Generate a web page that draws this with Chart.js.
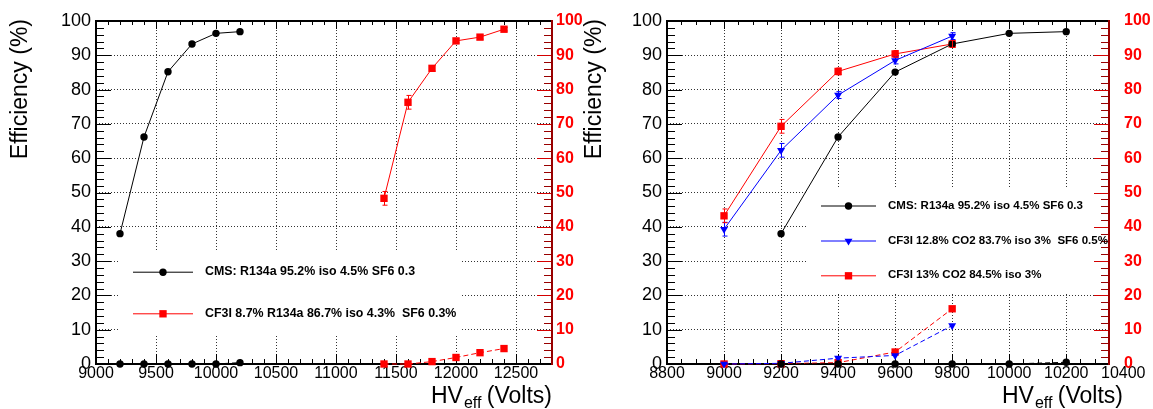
<!DOCTYPE html>
<html>
<head>
<meta charset="utf-8">
<script src="https://cdn.jsdelivr.net/npm/chart.js@4.4.0/dist/chart.umd.min.js"></script>
<style>
html, body { margin: 0; padding: 0; background: #fff; }
#wrap { position: relative; width: 1153px; height: 409px; overflow: hidden; }
.pan { position: absolute; top: 0; }
</style>
</head>
<body>
<div id="wrap">
  <div class="pan" style="left:0"><canvas id="cL" width="600" height="409"></canvas></div>
  <div class="pan" style="left:560px"><canvas id="cR" width="593" height="409"></canvas></div>
</div>
<script>
// --- left pad: CMS mixture vs CF3I/R134a
var hvCmsL = [9200, 9400, 9600, 9800, 10000, 10200];
var effCmsL = [38, 66.2, 85.2, 93.3, 96.4, 96.9];
var strCmsL = [0, 0, 0, 0, 0, 0.4];
var hvCf3iL = [11400, 11600, 11800, 12000, 12200, 12400];
var effCf3iL = [48.3, 76.3, 86.2, 94.2, 95.3, 97.6];
var errCf3iL = [2, 2, 0.8, 0.6, 0.6, 0.5];
var strCf3iL = [0, 0, 0.7, 1.9, 3.3, 4.5];
var rangeXL = [9000, 12800];
var ticksXL = [9000, 9500, 10000, 10500, 11000, 11500, 12000, 12500];

// --- right pad: CMS mixture vs CF3I/CO2
var hvCmsR = [9200, 9400, 9600, 9800, 10000, 10200];
var effCmsR = [38, 66.2, 85.1, 93.3, 96.4, 96.9];
var strCmsR = [0, 0, 0, 0, 0, 0.5];
var hvCo2 = [9000, 9200, 9400, 9600, 9800];
var effCo2Sf6 = [39.3, 62.3, 78.4, 88.5, 95.6];
var errCo2Sf6 = [2, 2, 1, 1, 1];
var strCo2Sf6 = [0, 0.2, 1.7, 2.5, 11.2];
var effCo2 = [43.2, 69.3, 85.3, 90.4, 93.3];
var errCo2 = [2, 2, 1, 1, 1];
var strCo2 = [0, 0.1, 0.4, 3.5, 16.1];
var rangeXR = [8800, 10350];
var ticksXR = [8800, 9000, 9200, 9400, 9600, 9800, 10000, 10200, 10400];

var ticksY = [0, 10, 20, 30, 40, 50, 60, 70, 80, 90, 100];

var labCms = 'CMS: R134a 95.2% iso 4.5% SF6 0.3';
var labR134 = 'CF3I 8.7% R134a 86.7% iso 4.3%  SF6 0.3%';
var labCo2Sf6 = 'CF3I 12.8% CO2 83.7% iso 3%  SF6 0.5%';
var labCo2 = 'CF3I 13% CO2 84.5% iso 3%';

var FONT = '"Liberation Sans", Arial, Helvetica, sans-serif';

function pts(xs, ys) {
    return xs.map(function (x, i) { return { x: x, y: ys[i] }; });
}

function serie(label, xs, ys, color, style, radius, dashed) {
    return {
        label: label,
        data: pts(xs, ys),
        showLine: true,
        borderColor: color,
        backgroundColor: color,
        borderWidth: 1,
        borderDash: dashed ? [5, 3] : [],
        pointStyle: style,
        pointRotation: style === 'triangle' ? 180 : 0,
        pointRadius: radius,
        pointBorderWidth: 0,
        pointBackgroundColor: color,
        clip: false
    };
}

function marca(ctx, style, x, y, r, color) {
    ctx.fillStyle = color;
    ctx.beginPath();
    if (style === 'circle') {
        ctx.arc(x, y, r, 0, Math.PI * 2);
    } else if (style === 'rect') {
        var s = r * Math.SQRT1_2;
        ctx.rect(x - s, y - s, 2 * s, 2 * s);
    } else {
        ctx.moveTo(x, y + r);
        ctx.lineTo(x - r * 0.866, y - r / 2);
        ctx.lineTo(x + r * 0.866, y - r / 2);
        ctx.closePath();
    }
    ctx.fill();
}

function fixTicks(lista) {
    return function (s) {
        s.ticks = lista.map(function (v) { return { value: v }; });
    };
}

// frame, inward ticks, legend, error bars, titles (ROOT look)
var rootStyle = {
    id: 'rootStyle',
    beforeDatasetsDraw: function (chart, args, o) {
        var ctx = chart.ctx, a = chart.chartArea;
        var sx = chart.scales.x, sy = chart.scales.y;
        ctx.save();
        ctx.fillStyle = '#fff';
        ctx.fillRect(o.box[0], o.box[1], o.box[2], o.box[3]);

        ctx.lineWidth = 1;
        // x ticks bottom / top
        var n0 = Math.ceil(sx.min / o.xMinor), n1 = Math.floor(sx.max / o.xMinor);
        for (var n = n0; n <= n1; n++) {
            var v = n * o.xMinor;
            var px = Math.round(sx.getPixelForValue(v)) + 0.5;
            var maj = v % o.xMajor === 0;
            ctx.strokeStyle = '#000';
            ctx.beginPath();
            ctx.moveTo(px, a.bottom); ctx.lineTo(px, a.bottom - (maj ? 10 : 5));
            ctx.moveTo(px, a.top); ctx.lineTo(px, a.top + (maj ? 8 : 4));
            ctx.stroke();
        }
        // y ticks left (black) / right (red)
        for (var k = 0; k <= 50; k++) {
            var val = k * 2;
            var py = Math.round(sy.getPixelForValue(val)) + 0.5;
            var mj = val % 10 === 0;
            ctx.strokeStyle = '#000';
            ctx.beginPath();
            ctx.moveTo(a.left, py); ctx.lineTo(a.left + (mj ? 15 : 8), py);
            ctx.stroke();
            ctx.strokeStyle = mj ? '#d40000' : '#990000';
            ctx.beginPath();
            ctx.moveTo(a.right, py); ctx.lineTo(a.right - (mj ? 15 : 8), py);
            ctx.stroke();
        }
        // frame
        ctx.lineWidth = 2;
        ctx.strokeStyle = '#000';
        ctx.beginPath();
        ctx.moveTo(a.right, a.top); ctx.lineTo(a.left, a.top);
        ctx.lineTo(a.left, a.bottom); ctx.lineTo(a.right, a.bottom);
        ctx.stroke();
        ctx.strokeStyle = '#990000';
        ctx.beginPath();
        ctx.moveTo(a.right, a.top - 1); ctx.lineTo(a.right, a.bottom + 1);
        ctx.stroke();
        ctx.restore();
    },
    afterDatasetsDraw: function (chart, args, o) {
        var ctx = chart.ctx;
        var sy = chart.scales.y;
        ctx.save();
        ctx.lineWidth = 1;
        // error bars
        o.errors.forEach(function (e) {
            var ds = chart.data.datasets[e.ds];
            var meta = chart.getDatasetMeta(e.ds);
            ctx.strokeStyle = ds.borderColor;
            meta.data.forEach(function (p, i) {
                var v = ds.data[i].y;
                var y1 = sy.getPixelForValue(v + e.err[i]);
                var y2 = sy.getPixelForValue(v - e.err[i]);
                var x = Math.round(p.x) + 0.5;
                ctx.beginPath();
                ctx.moveTo(x, y1); ctx.lineTo(x, y2);
                ctx.moveTo(x - 2, y1); ctx.lineTo(x + 3, y1);
                ctx.moveTo(x - 2, y2); ctx.lineTo(x + 3, y2);
                ctx.stroke();
            });
        });
        // legend
        var lg = o.legend;
        ctx.font = 'bold ' + lg.size + 'px ' + FONT;
        ctx.textBaseline = 'middle';
        ctx.textAlign = 'left';
        lg.rows.forEach(function (r) {
            var ds = chart.data.datasets[r.ds];
            ctx.strokeStyle = ds.borderColor;
            ctx.beginPath();
            ctx.moveTo(lg.x1, r.y + 0.5); ctx.lineTo(lg.x2, r.y + 0.5);
            ctx.stroke();
            marca(ctx, ds.pointStyle, (lg.x1 + lg.x2) / 2, r.y + 0.5, ds.pointRadius, ds.borderColor);
            ctx.fillStyle = '#000';
            ctx.fillText(ds.label, lg.tx, r.y);
        });
        // x title: HV_eff (Volts)
        ctx.textBaseline = 'alphabetic';
        ctx.fillStyle = '#000';
        ctx.font = '23px ' + FONT;
        var wHV = ctx.measureText('HV').width;
        var wV = ctx.measureText(' (Volts)').width;
        ctx.font = '16px ' + FONT;
        var wE = ctx.measureText('eff').width;
        var x0 = o.xTitleEnd - wHV - wE - wV;
        ctx.font = '23px ' + FONT;
        ctx.fillText('HV', x0, 403);
        ctx.fillText(' (Volts)', x0 + wHV + wE, 403);
        ctx.font = '16px ' + FONT;
        ctx.fillText('eff', x0 + wHV + 1, 408);
        // y title
        ctx.font = '23px ' + FONT;
        ctx.translate(o.yTitleX, 19);
        ctx.rotate(-Math.PI / 2);
        ctx.textAlign = 'right';
        ctx.fillText('Efficiency (%)', 0, 0);
        ctx.restore();
    }
};

function painel(id, datasets, xr, xt, wy, wy2, padR, plug) {
    var ctx = document.getElementById(id).getContext('2d');
    return new Chart(ctx, {
        type: 'scatter',
        data: { datasets: datasets },
        plugins: [rootStyle],
        options: {
            responsive: false,
            animation: false,
            layout: { padding: { top: 21, left: 0, right: 0, bottom: 0 } },
            plugins: {
                legend: { display: false },
                tooltip: { enabled: false },
                rootStyle: plug
            },
            scales: {
                x: {
                    type: 'linear',
                    min: xr[0], max: xr[1],
                    afterBuildTicks: fixTicks(xt),
                    afterFit: function (s) { s.height = 45; s.paddingLeft = 0; s.paddingRight = 0; },
                    ticks: {
                        autoSkip: false, maxRotation: 0, padding: 0, color: '#000',
                        font: { family: FONT, size: 16 },
                        callback: function (v) { return String(v); }
                    },
                    grid: {
                        drawTicks: false, lineWidth: 1,
                        color: function (c) {
                            return c.tick && c.tick.value > xr[1] ? 'rgba(0,0,0,0)' : '#333';
                        }
                    },
                    border: { display: false, dash: [1, 2] }
                },
                y: {
                    min: 0, max: 100,
                    afterBuildTicks: fixTicks(ticksY),
                    afterFit: function (s) { s.width = wy; s.paddingTop = 0; s.paddingBottom = 0; },
                    ticks: { padding: 5, color: '#000', font: { family: FONT, size: 18 } },
                    grid: { drawTicks: false, lineWidth: 1, color: '#333' },
                    border: { display: false, dash: [1, 2] }
                },
                y2: {
                    position: 'right',
                    min: 0, max: 100,
                    afterBuildTicks: fixTicks(ticksY),
                    afterFit: function (s) { s.width = wy2; s.paddingTop = 0; s.paddingBottom = 0; },
                    ticks: { padding: padR, color: '#ff0000', font: { family: FONT, size: 16, weight: 'bold' } },
                    grid: { display: false, drawTicks: false },
                    border: { display: false }
                }
            }
        }
    });
}

painel('cL', [
    serie(labCms, hvCmsL, effCmsL, '#000', 'circle', 3.7, false),
    serie('', hvCmsL, strCmsL, '#000', 'circle', 3.7, true),
    serie(labR134, hvCf3iL, effCf3iL, '#ff0000', 'rect', 5.2, false),
    serie('', hvCf3iL, strCf3iL, '#ff0000', 'rect', 5.2, true)
], rangeXL, ticksXL, 96, 48, 4, {
    xMajor: 500, xMinor: 100,
    box: [118, 250, 342, 85],
    errors: [{ ds: 2, err: errCf3iL }],
    legend: { x1: 133, x2: 193, tx: 205, size: 12.4, rows: [{ ds: 0, y: 271.7 }, { ds: 2, y: 313.3 }] },
    xTitleEnd: 552,
    yTitleX: 26.5
});

painel('cR', [
    serie(labCms, hvCmsR, effCmsR, '#000', 'circle', 3.7, false),
    serie('', hvCmsR, strCmsR, '#000', 'circle', 3.7, true),
    serie(labCo2Sf6, hvCo2, effCo2Sf6, '#0000ff', 'triangle', 4.6, false),
    serie('', hvCo2, strCo2Sf6, '#0000ff', 'triangle', 4.6, true),
    serie(labCo2, hvCo2, effCo2, '#ff0000', 'rect', 5.2, false),
    serie('', hvCo2, strCo2, '#ff0000', 'rect', 5.2, true)
], rangeXR, ticksXR, 107, 44, 15, {
    xMajor: 200, xMinor: 50,
    box: [248, 187, 301, 106],
    errors: [{ ds: 2, err: errCo2Sf6 }, { ds: 4, err: errCo2 }],
    legend: { x1: 261, x2: 316, tx: 328, size: 11.5, rows: [{ ds: 0, y: 205.5 }, { ds: 2, y: 240.5 }, { ds: 4, y: 275.3 }] },
    xTitleEnd: 563,
    yTitleX: 40.5
});
</script>
</body>
</html>
